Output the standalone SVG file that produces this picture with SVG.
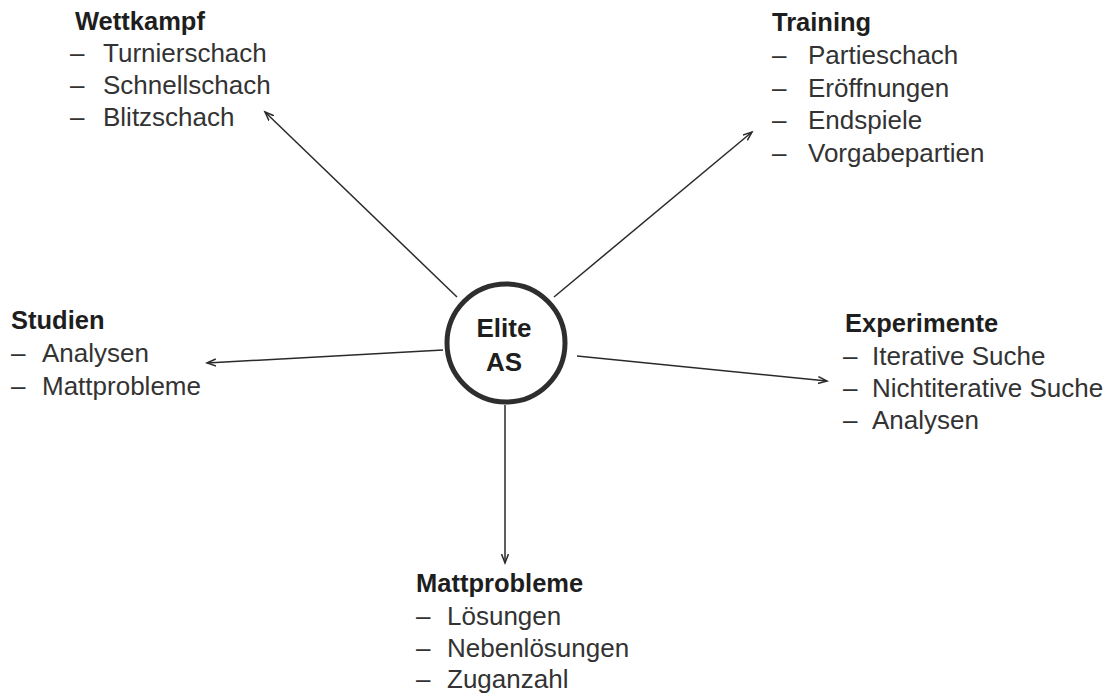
<svg xmlns="http://www.w3.org/2000/svg" width="1116" height="695" viewBox="0 0 1116 695">
<defs>
<style>
.h{font-family:"Liberation Sans",Arial,sans-serif;font-weight:bold;font-size:25.5px;fill:#1e1e1e}
.i{font-family:"Liberation Sans",Arial,sans-serif;font-size:26px;fill:#333333}
.c{font-family:"Liberation Sans",Arial,sans-serif;font-weight:bold;font-size:26px;fill:#1e1e1e;text-anchor:middle}
.ln{stroke:#2a2a2a;stroke-width:1.5;fill:none;marker-end:url(#ah)}
</style>
<marker id="ah" markerUnits="userSpaceOnUse" markerWidth="12" markerHeight="10" refX="9" refY="4" orient="auto">
<path d="M0,0.5 L9,4 L0,7.5" fill="none" stroke="#2a2a2a" stroke-width="1.5"/>
</marker>
</defs>
<rect width="1116" height="695" fill="#ffffff"/>
<g id="connectors">
<line class="ln" x1="457" y1="297" x2="265" y2="112"/>
<line class="ln" x1="554" y1="297" x2="752" y2="132"/>
<line class="ln" x1="443" y1="350" x2="207" y2="363"/>
<line class="ln" x1="577" y1="356" x2="827" y2="381"/>
<line class="ln" x1="505" y1="405" x2="505" y2="563"/>
</g>
<g id="center">
<circle cx="506" cy="343" r="59" fill="#ffffff" stroke="#2e2e2e" stroke-width="5"/>
<text class="c" x="504" y="337">Elite</text>
<text class="c" x="504" y="371">AS</text>
</g>
<g id="wettkampf">
<text class="h" x="75" y="30">Wettkampf</text>
<text class="i" x="70" y="62">–<tspan x="103">Turnierschach</tspan></text>
<text class="i" x="70" y="94">–<tspan x="103">Schnellschach</tspan></text>
<text class="i" x="70" y="126">–<tspan x="103">Blitzschach</tspan></text>
</g>
<g id="training">
<text class="h" x="772" y="31">Training</text>
<text class="i" x="772" y="64">–<tspan x="808">Partieschach</tspan></text>
<text class="i" x="772" y="97">–<tspan x="808">Eröffnungen</tspan></text>
<text class="i" x="772" y="129">–<tspan x="808">Endspiele</tspan></text>
<text class="i" x="772" y="162">–<tspan x="808">Vorgabepartien</tspan></text>
</g>
<g id="studien">
<text class="h" x="11" y="329">Studien</text>
<text class="i" x="11" y="362">–<tspan x="42">Analysen</tspan></text>
<text class="i" x="11" y="395">–<tspan x="42">Mattprobleme</tspan></text>
</g>
<g id="experimente">
<text class="h" x="845" y="332">Experimente</text>
<text class="i" x="843" y="365">–<tspan x="872">Iterative Suche</tspan></text>
<text class="i" x="843" y="397">–<tspan x="872">Nichtiterative Suche</tspan></text>
<text class="i" x="843" y="429">–<tspan x="872">Analysen</tspan></text>
</g>
<g id="mattprobleme">
<text class="h" x="416" y="592">Mattprobleme</text>
<text class="i" x="416" y="625">–<tspan x="447">Lösungen</tspan></text>
<text class="i" x="416" y="657">–<tspan x="447">Nebenlösungen</tspan></text>
<text class="i" x="416" y="688">–<tspan x="447">Zuganzahl</tspan></text>
</g>
</svg>
